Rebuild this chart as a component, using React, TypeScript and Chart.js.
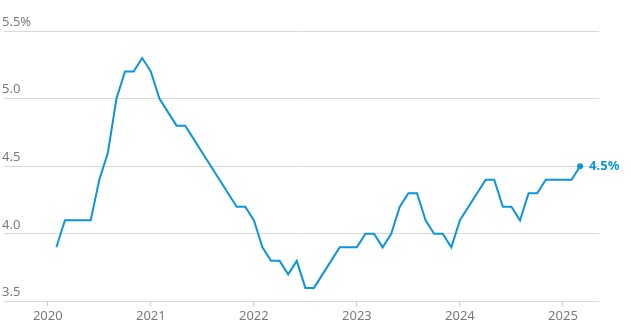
import React, { useEffect, useRef } from "react";
import { Chart, registerables } from "chart.js";

Chart.register(...registerables);

// Months since Jan 2020, starting Feb 2020 through Mar 2025
const startMonth = 1;
const values = [
  3.9, 4.1, 4.1, 4.1, 4.1, 4.4, 4.6, 5.0, 5.2, 5.2, 5.3, // Feb-Dec 2020
  5.2, 5.0, 4.9, 4.8, 4.8, 4.7, 4.6, 4.5, 4.4, 4.3, 4.2, 4.2, // 2021
  4.1, 3.9, 3.8, 3.8, 3.7, 3.8, 3.6, 3.6, 3.7, 3.8, 3.9, 3.9, // 2022
  3.9, 4.0, 4.0, 3.9, 4.0, 4.2, 4.3, 4.3, 4.1, 4.0, 4.0, 3.9, // 2023
  4.1, 4.2, 4.3, 4.4, 4.4, 4.2, 4.2, 4.1, 4.3, 4.3, 4.4, 4.4, // 2024
  4.4, 4.4, 4.5, // 2025
];
const yearTicks = [0, 12, 24, 36, 48, 60];
const yearLabels = ["2020", "2021", "2022", "2023", "2024", "2025"];
const yTicks = [3.5, 4.0, 4.5, 5.0, 5.5];
const yLabels = ["3.5", "4.0", "4.5", "5.0", "5.5%"];
const lastLabel = "4.5%";

const BLUE = "#0c95d9";
const FONT = "'Noto Sans', sans-serif";

export default function App() {
  const ref = useRef<HTMLCanvasElement>(null);
  useEffect(() => {
    document.body.style.margin = "0";
    const data = values.map((v, i) => ({ x: startMonth + i, y: v }));
    const last = data.length - 1;
    const labelPlugin = {
      id: "labels",
      afterDraw(chart: any) {
        const { ctx, scales } = chart;
        const ys = scales.y;
        const xs = scales.x;
        ctx.save();
        ctx.font = `13px ${FONT}`;
        ctx.fillStyle = "#7a7a7a";
        ctx.textAlign = "left";
        ctx.textBaseline = "middle";
        yTicks.forEach((t, i) => {
          ctx.fillText(yLabels[i], 2, ys.getPixelForValue(t) - 9);
        });
        const p = data[last];
        ctx.font = `bold 13px ${FONT}`;
        ctx.fillStyle = BLUE;
        ctx.fillText(lastLabel, xs.getPixelForValue(p.x) + 9, ys.getPixelForValue(p.y));
        ctx.restore();
      },
    };
    const chart = new Chart(ref.current!, {
      type: "line",
      data: {
        datasets: [
          {
            data,
            borderColor: BLUE,
            borderWidth: 2,
            tension: 0,
            pointRadius: (c: any) => (c.dataIndex === last ? 3 : 0),
            pointBackgroundColor: BLUE,
            pointBorderWidth: 0,
            clip: false as any,
          },
        ],
      },
      options: {
        animation: false,
        responsive: false,
        maintainAspectRatio: false,
        layout: { padding: { left: 1, right: 32, top: 31, bottom: 3 } },
        plugins: { legend: { display: false }, tooltip: { enabled: false } },
        scales: {
          x: {
            type: "linear",
            min: -5.1,
            max: 64.2,
            afterBuildTicks: (s: any) => {
              s.ticks = yearTicks.map((v) => ({ value: v }));
            },
            ticks: {
              callback: (v: any) => {
                const i = yearTicks.indexOf(Number(v));
                return i >= 0 ? yearLabels[i] : "";
              },
              color: "#7a7a7a",
              font: { family: FONT, size: 13 },
              maxRotation: 0,
              autoSkip: false,
              padding: 2,
            },
            grid: {
              drawOnChartArea: false,
              drawTicks: true,
              tickLength: 5,
              color: "#cccccc",
            },
            border: { display: false },
          },
          y: {
            min: 3.5,
            max: 5.5,
            afterBuildTicks: (s: any) => {
              s.ticks = yTicks.map((v) => ({ value: v }));
            },
            ticks: { display: false },
            grid: { color: "#d9d9d9", drawTicks: false, lineWidth: 1 },
            border: { display: false },
          },
        },
      },
      plugins: [labelPlugin],
    });
    return () => chart.destroy();
  }, []);
  return (
    <div style={{ position: "relative", width: 631, height: 329 }}>
      <canvas ref={ref} width={631} height={329} style={{ display: "block" }} />
    </div>
  );
}
